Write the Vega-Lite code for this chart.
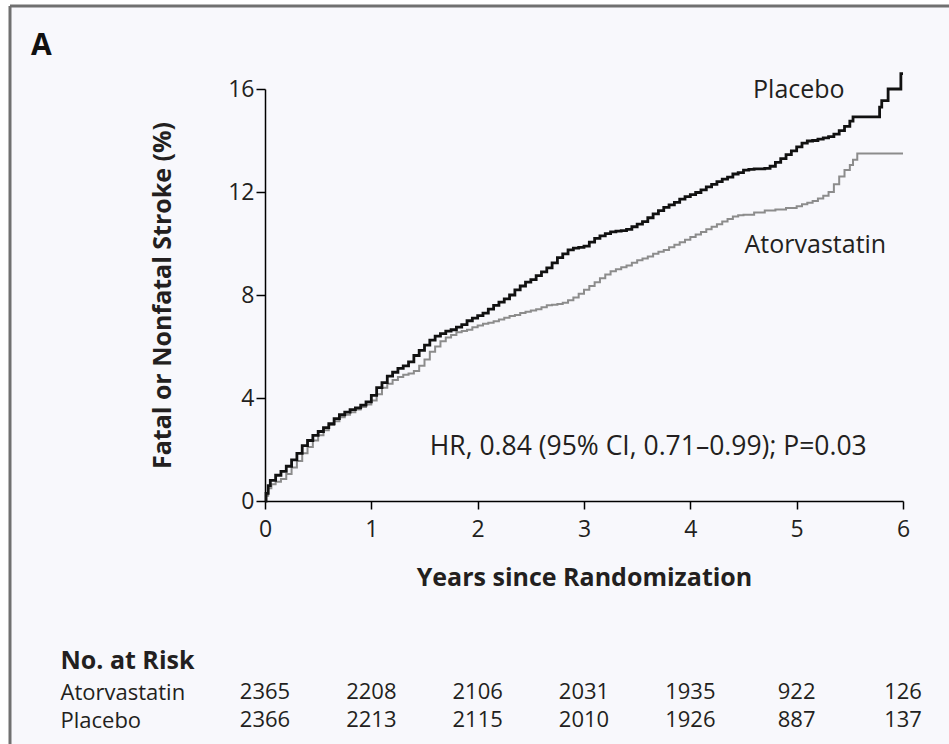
{
  "$schema": "https://vega.github.io/schema/vega-lite/v6.json",
  "width": 939,
  "height": 738,
  "autosize": {"type": "none"},
  "padding": {"left": 10, "top": 6, "right": 0, "bottom": 0},
  "background": "#ffffff",
  "title": {"text": "A", "anchor": "start", "frame": "group", "fontSize": 30, "fontWeight": "bold", "font": "Open Sans", "color": "#111111", "offset": -52, "baseline": "alphabetic", "dx": 21, "dy": 27},
  "config": {
    "view": {"fill": "#f8f8fc", "stroke": "#707070", "strokeWidth": 3, "strokeDash": [939, 1677, 738, 0]},
    "font": "Open Sans",
    "axis": {"grid": false, "domainColor": "#000000", "tickColor": "#000000", "domainWidth": 1.5, "tickWidth": 1.5, "labelColor": "#231f20", "titleColor": "#231f20", "labelFont": "Open Sans", "titleFont": "Open Sans"}
  },
  "datasets": {
    "curves": [
      {"arm": "Atorvastatin", "t": 0, "v": 0},
      {"arm": "Atorvastatin", "t": 0.01, "v": 0.2},
      {"arm": "Atorvastatin", "t": 0.03, "v": 0.5},
      {"arm": "Atorvastatin", "t": 0.06, "v": 0.65},
      {"arm": "Atorvastatin", "t": 0.1, "v": 0.75},
      {"arm": "Atorvastatin", "t": 0.15, "v": 0.85},
      {"arm": "Atorvastatin", "t": 0.2, "v": 1.05},
      {"arm": "Atorvastatin", "t": 0.25, "v": 1.3},
      {"arm": "Atorvastatin", "t": 0.3, "v": 1.55},
      {"arm": "Atorvastatin", "t": 0.35, "v": 1.85},
      {"arm": "Atorvastatin", "t": 0.4, "v": 2.1},
      {"arm": "Atorvastatin", "t": 0.45, "v": 2.35},
      {"arm": "Atorvastatin", "t": 0.5, "v": 2.55},
      {"arm": "Atorvastatin", "t": 0.55, "v": 2.75},
      {"arm": "Atorvastatin", "t": 0.6, "v": 2.95},
      {"arm": "Atorvastatin", "t": 0.65, "v": 3.1},
      {"arm": "Atorvastatin", "t": 0.7, "v": 3.25},
      {"arm": "Atorvastatin", "t": 0.75, "v": 3.35},
      {"arm": "Atorvastatin", "t": 0.8, "v": 3.45},
      {"arm": "Atorvastatin", "t": 0.85, "v": 3.55},
      {"arm": "Atorvastatin", "t": 0.9, "v": 3.65},
      {"arm": "Atorvastatin", "t": 0.95, "v": 3.75},
      {"arm": "Atorvastatin", "t": 1.0, "v": 3.9},
      {"arm": "Atorvastatin", "t": 1.05, "v": 4.15},
      {"arm": "Atorvastatin", "t": 1.1, "v": 4.4},
      {"arm": "Atorvastatin", "t": 1.15, "v": 4.55},
      {"arm": "Atorvastatin", "t": 1.2, "v": 4.7},
      {"arm": "Atorvastatin", "t": 1.25, "v": 4.82},
      {"arm": "Atorvastatin", "t": 1.3, "v": 4.9},
      {"arm": "Atorvastatin", "t": 1.35, "v": 4.95},
      {"arm": "Atorvastatin", "t": 1.4, "v": 5.05},
      {"arm": "Atorvastatin", "t": 1.45, "v": 5.25},
      {"arm": "Atorvastatin", "t": 1.5, "v": 5.5},
      {"arm": "Atorvastatin", "t": 1.55, "v": 5.8},
      {"arm": "Atorvastatin", "t": 1.6, "v": 6.0},
      {"arm": "Atorvastatin", "t": 1.65, "v": 6.2},
      {"arm": "Atorvastatin", "t": 1.7, "v": 6.35},
      {"arm": "Atorvastatin", "t": 1.75, "v": 6.45},
      {"arm": "Atorvastatin", "t": 1.8, "v": 6.55},
      {"arm": "Atorvastatin", "t": 1.85, "v": 6.6},
      {"arm": "Atorvastatin", "t": 1.9, "v": 6.65},
      {"arm": "Atorvastatin", "t": 1.95, "v": 6.75},
      {"arm": "Atorvastatin", "t": 2.0, "v": 6.82},
      {"arm": "Atorvastatin", "t": 2.05, "v": 6.88},
      {"arm": "Atorvastatin", "t": 2.1, "v": 6.92},
      {"arm": "Atorvastatin", "t": 2.15, "v": 6.98},
      {"arm": "Atorvastatin", "t": 2.2, "v": 7.05},
      {"arm": "Atorvastatin", "t": 2.25, "v": 7.12},
      {"arm": "Atorvastatin", "t": 2.3, "v": 7.18},
      {"arm": "Atorvastatin", "t": 2.35, "v": 7.22},
      {"arm": "Atorvastatin", "t": 2.4, "v": 7.3},
      {"arm": "Atorvastatin", "t": 2.45, "v": 7.35},
      {"arm": "Atorvastatin", "t": 2.5, "v": 7.4},
      {"arm": "Atorvastatin", "t": 2.55, "v": 7.45},
      {"arm": "Atorvastatin", "t": 2.6, "v": 7.52},
      {"arm": "Atorvastatin", "t": 2.65, "v": 7.6},
      {"arm": "Atorvastatin", "t": 2.7, "v": 7.62},
      {"arm": "Atorvastatin", "t": 2.75, "v": 7.65},
      {"arm": "Atorvastatin", "t": 2.8, "v": 7.7},
      {"arm": "Atorvastatin", "t": 2.85, "v": 7.8},
      {"arm": "Atorvastatin", "t": 2.9, "v": 7.9},
      {"arm": "Atorvastatin", "t": 2.95, "v": 8.05},
      {"arm": "Atorvastatin", "t": 3.0, "v": 8.2},
      {"arm": "Atorvastatin", "t": 3.05, "v": 8.35},
      {"arm": "Atorvastatin", "t": 3.1, "v": 8.5},
      {"arm": "Atorvastatin", "t": 3.15, "v": 8.65},
      {"arm": "Atorvastatin", "t": 3.2, "v": 8.8},
      {"arm": "Atorvastatin", "t": 3.25, "v": 8.92},
      {"arm": "Atorvastatin", "t": 3.3, "v": 9.0},
      {"arm": "Atorvastatin", "t": 3.35, "v": 9.08},
      {"arm": "Atorvastatin", "t": 3.4, "v": 9.15},
      {"arm": "Atorvastatin", "t": 3.45, "v": 9.25},
      {"arm": "Atorvastatin", "t": 3.5, "v": 9.35},
      {"arm": "Atorvastatin", "t": 3.55, "v": 9.42},
      {"arm": "Atorvastatin", "t": 3.6, "v": 9.5},
      {"arm": "Atorvastatin", "t": 3.65, "v": 9.6},
      {"arm": "Atorvastatin", "t": 3.7, "v": 9.68},
      {"arm": "Atorvastatin", "t": 3.75, "v": 9.75},
      {"arm": "Atorvastatin", "t": 3.8, "v": 9.85},
      {"arm": "Atorvastatin", "t": 3.85, "v": 9.95},
      {"arm": "Atorvastatin", "t": 3.9, "v": 10.05},
      {"arm": "Atorvastatin", "t": 3.95, "v": 10.15},
      {"arm": "Atorvastatin", "t": 4.0, "v": 10.25},
      {"arm": "Atorvastatin", "t": 4.05, "v": 10.35},
      {"arm": "Atorvastatin", "t": 4.1, "v": 10.45},
      {"arm": "Atorvastatin", "t": 4.15, "v": 10.55},
      {"arm": "Atorvastatin", "t": 4.2, "v": 10.65},
      {"arm": "Atorvastatin", "t": 4.25, "v": 10.75},
      {"arm": "Atorvastatin", "t": 4.3, "v": 10.85},
      {"arm": "Atorvastatin", "t": 4.35, "v": 10.95},
      {"arm": "Atorvastatin", "t": 4.4, "v": 11.05},
      {"arm": "Atorvastatin", "t": 4.45, "v": 11.1},
      {"arm": "Atorvastatin", "t": 4.5, "v": 11.12},
      {"arm": "Atorvastatin", "t": 4.6, "v": 11.2},
      {"arm": "Atorvastatin", "t": 4.7, "v": 11.28},
      {"arm": "Atorvastatin", "t": 4.8, "v": 11.32},
      {"arm": "Atorvastatin", "t": 4.9, "v": 11.38},
      {"arm": "Atorvastatin", "t": 5.0, "v": 11.45},
      {"arm": "Atorvastatin", "t": 5.05, "v": 11.52},
      {"arm": "Atorvastatin", "t": 5.1, "v": 11.58},
      {"arm": "Atorvastatin", "t": 5.15, "v": 11.65},
      {"arm": "Atorvastatin", "t": 5.2, "v": 11.75},
      {"arm": "Atorvastatin", "t": 5.25, "v": 11.85},
      {"arm": "Atorvastatin", "t": 5.3, "v": 12.0},
      {"arm": "Atorvastatin", "t": 5.35, "v": 12.3},
      {"arm": "Atorvastatin", "t": 5.4, "v": 12.6},
      {"arm": "Atorvastatin", "t": 5.45, "v": 12.85},
      {"arm": "Atorvastatin", "t": 5.5, "v": 13.05},
      {"arm": "Atorvastatin", "t": 5.53, "v": 13.25},
      {"arm": "Atorvastatin", "t": 5.57, "v": 13.5},
      {"arm": "Atorvastatin", "t": 6.0, "v": 13.5},
      {"arm": "Placebo", "t": 0, "v": 0},
      {"arm": "Placebo", "t": 0.01, "v": 0.3},
      {"arm": "Placebo", "t": 0.03, "v": 0.6},
      {"arm": "Placebo", "t": 0.05, "v": 0.8},
      {"arm": "Placebo", "t": 0.1, "v": 1.0},
      {"arm": "Placebo", "t": 0.15, "v": 1.15},
      {"arm": "Placebo", "t": 0.2, "v": 1.35},
      {"arm": "Placebo", "t": 0.25, "v": 1.6},
      {"arm": "Placebo", "t": 0.3, "v": 1.85},
      {"arm": "Placebo", "t": 0.35, "v": 2.15},
      {"arm": "Placebo", "t": 0.4, "v": 2.35},
      {"arm": "Placebo", "t": 0.45, "v": 2.55},
      {"arm": "Placebo", "t": 0.5, "v": 2.7},
      {"arm": "Placebo", "t": 0.55, "v": 2.85},
      {"arm": "Placebo", "t": 0.6, "v": 3.0},
      {"arm": "Placebo", "t": 0.65, "v": 3.2},
      {"arm": "Placebo", "t": 0.7, "v": 3.35},
      {"arm": "Placebo", "t": 0.75, "v": 3.45},
      {"arm": "Placebo", "t": 0.8, "v": 3.55},
      {"arm": "Placebo", "t": 0.85, "v": 3.62},
      {"arm": "Placebo", "t": 0.9, "v": 3.72},
      {"arm": "Placebo", "t": 0.95, "v": 3.85},
      {"arm": "Placebo", "t": 1.0, "v": 4.1},
      {"arm": "Placebo", "t": 1.05, "v": 4.4},
      {"arm": "Placebo", "t": 1.1, "v": 4.6},
      {"arm": "Placebo", "t": 1.15, "v": 4.85},
      {"arm": "Placebo", "t": 1.2, "v": 5.0},
      {"arm": "Placebo", "t": 1.25, "v": 5.15},
      {"arm": "Placebo", "t": 1.3, "v": 5.25},
      {"arm": "Placebo", "t": 1.35, "v": 5.4},
      {"arm": "Placebo", "t": 1.4, "v": 5.65},
      {"arm": "Placebo", "t": 1.45, "v": 5.85},
      {"arm": "Placebo", "t": 1.5, "v": 6.05},
      {"arm": "Placebo", "t": 1.55, "v": 6.25},
      {"arm": "Placebo", "t": 1.6, "v": 6.4},
      {"arm": "Placebo", "t": 1.65, "v": 6.5},
      {"arm": "Placebo", "t": 1.7, "v": 6.6},
      {"arm": "Placebo", "t": 1.75, "v": 6.65},
      {"arm": "Placebo", "t": 1.8, "v": 6.75},
      {"arm": "Placebo", "t": 1.85, "v": 6.85},
      {"arm": "Placebo", "t": 1.9, "v": 7.0},
      {"arm": "Placebo", "t": 1.95, "v": 7.1},
      {"arm": "Placebo", "t": 2.0, "v": 7.2},
      {"arm": "Placebo", "t": 2.05, "v": 7.3},
      {"arm": "Placebo", "t": 2.1, "v": 7.45},
      {"arm": "Placebo", "t": 2.15, "v": 7.6},
      {"arm": "Placebo", "t": 2.2, "v": 7.72},
      {"arm": "Placebo", "t": 2.25, "v": 7.85},
      {"arm": "Placebo", "t": 2.3, "v": 8.0},
      {"arm": "Placebo", "t": 2.35, "v": 8.2},
      {"arm": "Placebo", "t": 2.4, "v": 8.35},
      {"arm": "Placebo", "t": 2.45, "v": 8.5},
      {"arm": "Placebo", "t": 2.5, "v": 8.6},
      {"arm": "Placebo", "t": 2.55, "v": 8.75},
      {"arm": "Placebo", "t": 2.6, "v": 8.9},
      {"arm": "Placebo", "t": 2.65, "v": 9.05},
      {"arm": "Placebo", "t": 2.7, "v": 9.25},
      {"arm": "Placebo", "t": 2.75, "v": 9.45},
      {"arm": "Placebo", "t": 2.8, "v": 9.6},
      {"arm": "Placebo", "t": 2.85, "v": 9.75},
      {"arm": "Placebo", "t": 2.9, "v": 9.82},
      {"arm": "Placebo", "t": 2.95, "v": 9.85},
      {"arm": "Placebo", "t": 3.0, "v": 9.9},
      {"arm": "Placebo", "t": 3.05, "v": 10.05},
      {"arm": "Placebo", "t": 3.1, "v": 10.2},
      {"arm": "Placebo", "t": 3.15, "v": 10.3},
      {"arm": "Placebo", "t": 3.2, "v": 10.38},
      {"arm": "Placebo", "t": 3.25, "v": 10.45},
      {"arm": "Placebo", "t": 3.3, "v": 10.48},
      {"arm": "Placebo", "t": 3.35, "v": 10.5},
      {"arm": "Placebo", "t": 3.4, "v": 10.55},
      {"arm": "Placebo", "t": 3.45, "v": 10.65},
      {"arm": "Placebo", "t": 3.5, "v": 10.75},
      {"arm": "Placebo", "t": 3.55, "v": 10.85},
      {"arm": "Placebo", "t": 3.6, "v": 11.0},
      {"arm": "Placebo", "t": 3.65, "v": 11.15},
      {"arm": "Placebo", "t": 3.7, "v": 11.28},
      {"arm": "Placebo", "t": 3.75, "v": 11.4},
      {"arm": "Placebo", "t": 3.8, "v": 11.5},
      {"arm": "Placebo", "t": 3.85, "v": 11.6},
      {"arm": "Placebo", "t": 3.9, "v": 11.72},
      {"arm": "Placebo", "t": 3.95, "v": 11.82},
      {"arm": "Placebo", "t": 4.0, "v": 11.9},
      {"arm": "Placebo", "t": 4.05, "v": 11.98},
      {"arm": "Placebo", "t": 4.1, "v": 12.08},
      {"arm": "Placebo", "t": 4.15, "v": 12.2},
      {"arm": "Placebo", "t": 4.2, "v": 12.3},
      {"arm": "Placebo", "t": 4.25, "v": 12.4},
      {"arm": "Placebo", "t": 4.3, "v": 12.5},
      {"arm": "Placebo", "t": 4.35, "v": 12.58},
      {"arm": "Placebo", "t": 4.4, "v": 12.7},
      {"arm": "Placebo", "t": 4.45, "v": 12.75},
      {"arm": "Placebo", "t": 4.5, "v": 12.85},
      {"arm": "Placebo", "t": 4.55, "v": 12.88},
      {"arm": "Placebo", "t": 4.6, "v": 12.9},
      {"arm": "Placebo", "t": 4.7, "v": 12.92},
      {"arm": "Placebo", "t": 4.75, "v": 13.0},
      {"arm": "Placebo", "t": 4.8, "v": 13.15},
      {"arm": "Placebo", "t": 4.85, "v": 13.3},
      {"arm": "Placebo", "t": 4.9, "v": 13.45},
      {"arm": "Placebo", "t": 4.95, "v": 13.6},
      {"arm": "Placebo", "t": 5.0, "v": 13.75},
      {"arm": "Placebo", "t": 5.05, "v": 13.9},
      {"arm": "Placebo", "t": 5.1, "v": 13.98},
      {"arm": "Placebo", "t": 5.15, "v": 14.0},
      {"arm": "Placebo", "t": 5.2, "v": 14.05},
      {"arm": "Placebo", "t": 5.25, "v": 14.1},
      {"arm": "Placebo", "t": 5.3, "v": 14.15},
      {"arm": "Placebo", "t": 5.35, "v": 14.25},
      {"arm": "Placebo", "t": 5.4, "v": 14.38},
      {"arm": "Placebo", "t": 5.45, "v": 14.55},
      {"arm": "Placebo", "t": 5.5, "v": 14.75},
      {"arm": "Placebo", "t": 5.53, "v": 14.92},
      {"arm": "Placebo", "t": 5.78, "v": 15.3},
      {"arm": "Placebo", "t": 5.8, "v": 15.55},
      {"arm": "Placebo", "t": 5.86, "v": 16.0},
      {"arm": "Placebo", "t": 5.98, "v": 16.6},
      {"arm": "Placebo", "t": 6.0, "v": 16.6}
    ],
    "labels": [
      {"label": "Placebo", "t": 4.59, "v": 15.95},
      {"label": "Atorvastatin", "t": 4.51, "v": 9.95}
    ],
    "stats": [
      {"label": "HR, 0.84 (95% CI, 0.71–0.99); P=0.03", "t": 1.55, "v": 2.1}
    ],
    "risk": [
      {"arm": "Atorvastatin", "t": 0, "n": 2365},
      {"arm": "Atorvastatin", "t": 1, "n": 2208},
      {"arm": "Atorvastatin", "t": 2, "n": 2106},
      {"arm": "Atorvastatin", "t": 3, "n": 2031},
      {"arm": "Atorvastatin", "t": 4, "n": 1935},
      {"arm": "Atorvastatin", "t": 5, "n": 922},
      {"arm": "Atorvastatin", "t": 6, "n": 126},
      {"arm": "Placebo", "t": 0, "n": 2366},
      {"arm": "Placebo", "t": 1, "n": 2213},
      {"arm": "Placebo", "t": 2, "n": 2115},
      {"arm": "Placebo", "t": 3, "n": 2010},
      {"arm": "Placebo", "t": 4, "n": 1926},
      {"arm": "Placebo", "t": 5, "n": 887},
      {"arm": "Placebo", "t": 6, "n": 137}
    ]
  },
  "layer": [
    {
      "layer": [
        {
          "data": {"name": "curves"},
          "mark": {"type": "line", "interpolate": "step-after"},
          "encoding": {
            "x": {"field": "t", "type": "quantitative", "scale": {"domain": [0, 6], "range": [255, 893], "nice": false, "zero": false},
              "axis": {"values": [0, 1, 2, 3, 4, 5, 6], "format": "d", "offset": -243, "tickSize": 8, "labelFontSize": 23, "labelPadding": 9, "labelFlush": false, "title": "Years since Randomization", "titleFontSize": 25, "titleFontWeight": "bold", "titlePadding": 24}},
            "y": {"field": "v", "type": "quantitative", "scale": {"domain": [0, 16], "range": [495, 83], "nice": false},
              "axis": {"values": [0, 4, 8, 12, 16], "format": "d", "offset": -255, "tickSize": 9, "labelFontSize": 23, "labelPadding": 2, "labelFlush": false, "title": "Fatal or Nonfatal Stroke (%)", "titleFontSize": 25, "titleFontWeight": "bold", "titlePadding": 52}},
            "color": {"field": "arm", "type": "nominal", "scale": {"domain": ["Atorvastatin", "Placebo"], "range": ["#8c8c8c", "#111111"]}, "legend": null},
            "strokeWidth": {"field": "arm", "type": "nominal", "scale": {"domain": ["Atorvastatin", "Placebo"], "range": [2, 2.8]}, "legend": null}
          }
        },
        {
          "data": {"name": "labels"},
          "mark": {"type": "text", "align": "left", "baseline": "middle", "fontSize": 25, "color": "#231f20"},
          "encoding": {
            "x": {"field": "t", "type": "quantitative"},
            "y": {"field": "v", "type": "quantitative"},
            "text": {"field": "label"}
          }
        },
        {
          "data": {"name": "stats"},
          "mark": {"type": "text", "align": "left", "baseline": "middle", "fontSize": 26.5, "color": "#231f20"},
          "encoding": {
            "x": {"field": "t", "type": "quantitative"},
            "y": {"field": "v", "type": "quantitative"},
            "text": {"field": "label"}
          }
        }
      ]
    },
    {
      "data": {"name": "risk"},
      "mark": {"type": "text", "align": "center", "baseline": "middle", "fontSize": 22, "color": "#231f20"},
      "encoding": {
        "x": {"field": "t", "type": "quantitative"},
        "y": {"field": "arm", "type": "nominal", "scale": {"type": "point", "domain": ["Atorvastatin", "Placebo"], "range": [686, 714], "padding": 0},
          "axis": {"orient": "left", "offset": -50, "domain": false, "ticks": false, "tickSize": 0, "labelAlign": "left", "labelPadding": 0, "labelFontSize": 22, "title": "No. at Risk", "titleAngle": 0, "titleAlign": "left", "titleBaseline": "alphabetic", "titleX": 0, "titleY": 662, "titleFontSize": 25, "titleFontWeight": "bold"}},
        "text": {"field": "n", "type": "nominal"}
      }
    }
  ],
  "resolve": {"scale": {"y": "independent"}, "axis": {"y": "independent"}}
}
